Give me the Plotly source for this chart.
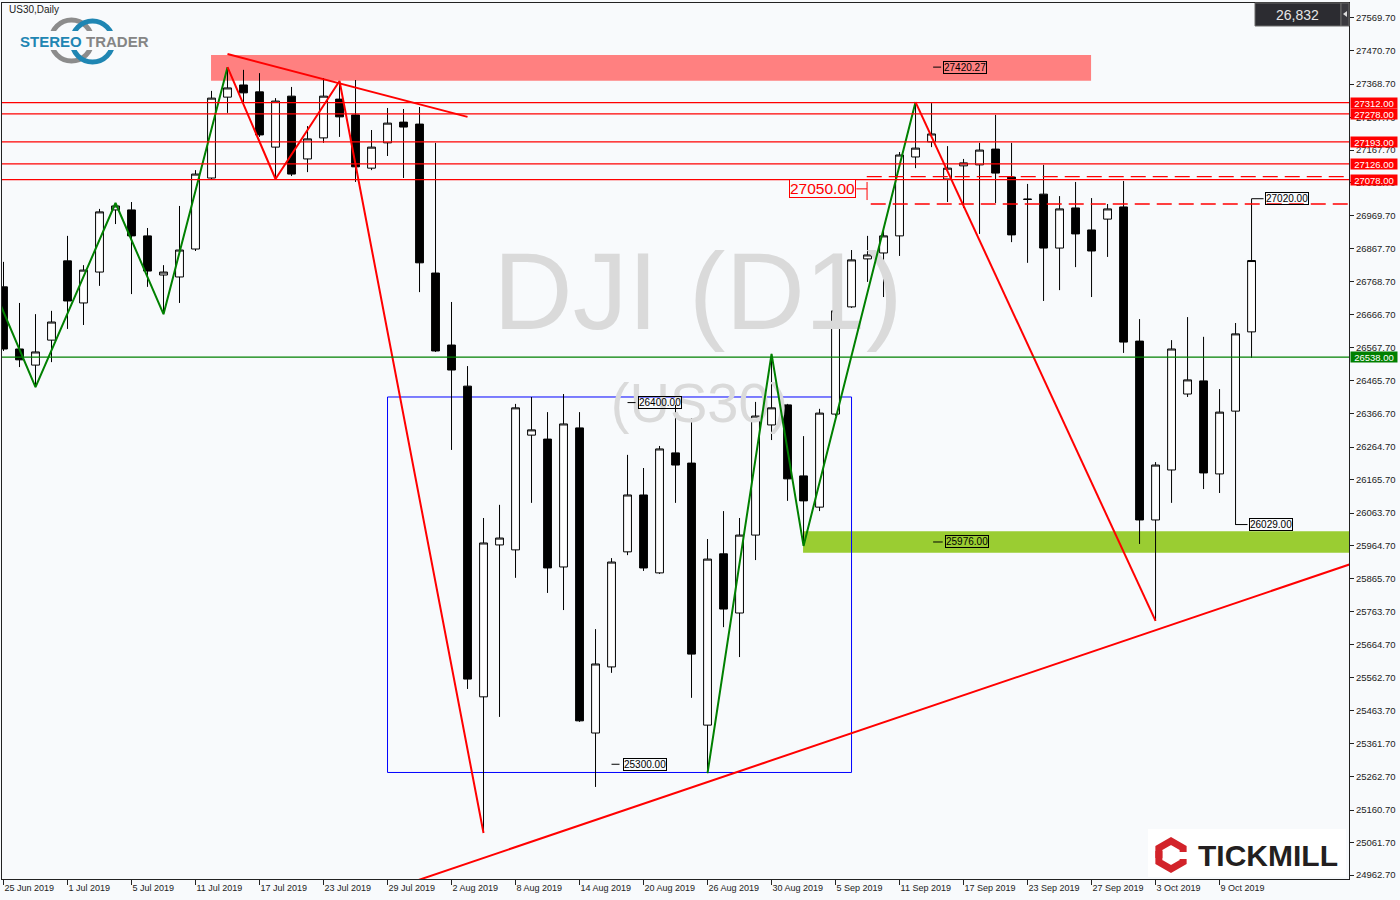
import math
import plotly.graph_objects as go
import pandas as pd

# ---------------- data ----------------
dates = pd.bdate_range("2019-06-25", "2019-10-11")  # 79 daily bars (US30 CFD)

opens = [26752, 26563, 26514, 26590, 26831, 26703, 26797, 26986, 26986, 26907,
         26788, 26782, 26867, 27083, 27329, 27366, 27345, 27177, 27332, 27141,
         27205, 27323, 27275, 27113, 27190, 27253, 27247, 26794, 26575, 26450,
         25505, 25967, 25952, 26301, 26289, 25900, 26323, 25395, 25596, 25946,
         26119, 25882, 26247, 26216, 25419, 25940, 25760, 25997, 26332, 26393,
         26177, 26082, 26365, 26691, 26837, 26855, 26907, 27147, 27193, 27080,
         27120, 27123, 27171, 27086, 27019, 27034, 26870, 26992, 26925, 26958,
         26995, 26587, 26043, 26195, 26426, 26466, 26183, 26374, 26615]
highs = [26828, 26703, 26669, 26679, 26907, 26818, 26989, 27007, 27010, 26931,
         26818, 26998, 27107, 27348, 27420, 27412, 27402, 27326, 27360, 27241,
         27387, 27378, 27381, 27229, 27296, 27293, 27299, 27190, 26706, 26511,
         26049, 26089, 26396, 26417, 26371, 26426, 26371, 25711, 25927, 26241,
         26201, 26268, 26393, 26353, 25985, 26070, 26049, 26402, 26548, 26396,
         26298, 26381, 26697, 26864, 26907, 26931, 27162, 27314, 27311, 27180,
         27141, 27190, 27275, 27190, 27065, 27123, 27028, 27071, 27022, 27004,
         27074, 26654, 26219, 26590, 26660, 26600, 26441, 26642, 27020]
lows = [26557, 26508, 26447, 26523, 26624, 26636, 26755, 26943, 26730, 26752,
        26669, 26703, 26861, 27080, 27281, 27311, 27208, 27080, 27089, 27101,
        27190, 27208, 27071, 27107, 27150, 27083, 26736, 26554, 26256, 25529,
        25091, 25444, 25867, 26095, 25821, 25769, 25429, 25231, 25578, 25936,
        25888, 25879, 26095, 25502, 25273, 25717, 25626, 25921, 26286, 26101,
        25964, 26070, 26359, 26688, 26767, 26721, 26846, 27113, 27177, 27010,
        26992, 26913, 27007, 26888, 26825, 26709, 26742, 26812, 26721, 26843,
        26551, 25970, 25736, 26095, 26417, 26137, 26125, 26028, 26536]
closes = [26563, 26530, 26554, 26645, 26709, 26803, 26980, 26998, 26907, 26800,
          26797, 26864, 27095, 27326, 27357, 27342, 27214, 27317, 27095, 27202,
          27332, 27269, 27117, 27177, 27250, 27238, 26825, 26557, 26499, 25559,
          25973, 25988, 26384, 26317, 25897, 26335, 25432, 25605, 25915, 26119,
          25897, 26259, 26210, 25635, 25924, 25772, 25997, 26359, 26384, 26168,
          26101, 26368, 26679, 26834, 26849, 26907, 27153, 27174, 27217, 27113,
          27129, 27168, 27098, 26910, 27018, 26870, 26989, 26913, 26861, 26989,
          26584, 26043, 26210, 26563, 26469, 26186, 26371, 26609, 26832]

y_ticks = [27569.70, 27470.70, 27368.70, 27267.70, 27167.70, 27068.70, 26969.70,
           26867.70, 26768.70, 26666.70, 26567.70, 26465.70, 26366.70, 26264.70,
           26165.70, 26063.70, 25964.70, 25865.70, 25763.70, 25664.70, 25562.70,
           25463.70, 25361.70, 25262.70, 25160.70, 25061.70, 24962.70]
x_tick_every = 4

red_levels = [27312, 27278, 27193, 27126, 27078]
green_level = 26538
resist_zone = [13, 68, 27379, 27457]          # bar start, bar end, low, high
resist_label = 27420.27
support_zone = [50, 90, 25943, 26009]
support_label = 25976.00
range_box = [24, 53, 25275, 26417]
range_labels = [(41.06, 26400.00, 39.0), (40.1, 25300.00, 38.0)]
gap_lines = [(53.95, 27087), (54.2, 27004)]
gap_label = 27050.00
down_trend = [(14.0, 27460), (29.0, 27269)]
up_trend = [(24.0, 24916), (84.5, 25914)]
zz_green_prev = (-1, 26790)
zz_green_1 = [(2, "L"), (7, "H"), (10, "L"), (14, "H")]
zz_red_1 = [(14, "H"), (17, "L"), (21, "H"), (30, "L")]
zz_green_2 = [(44, "L"), (48, "H"), (50, "L"), (57, "H")]
zz_red_2 = [(57, "H"), (72, "L")]
right_labels = [(78, 27020.00, 80.2), (77, 26029.00, 79.2)]

# ---------------- figure ----------------
xs = list(range(len(dates)))
BG = "#f8fafc"
FONT = "Liberation Sans"


def zz(points):
    xv, yv = [], []
    for i, t in points:
        xv.append(i)
        yv.append(highs[i] if t == "H" else lows[i])
    return xv, yv


fig = go.Figure()

# watermark (behind candles)
fig.add_trace(go.Scatter(x=[43.4], y=[26706], mode="text", text=["DJI (D1)"],
                         textfont=dict(size=110, color="#dadada", family=FONT),
                         hoverinfo="skip", showlegend=False))
fig.add_trace(go.Scatter(x=[43.5], y=[26384], mode="text", text=["(US30)"],
                         textfont=dict(size=56, color="#dadada", family=FONT),
                         hoverinfo="skip", showlegend=False))

fig.add_trace(go.Candlestick(
    x=xs, open=opens, high=highs, low=lows, close=closes,
    increasing=dict(line=dict(color="black", width=1), fillcolor="white"),
    decreasing=dict(line=dict(color="black", width=1), fillcolor="black"),
    whiskerwidth=0, showlegend=False, hoverinfo="skip"))

# zigzags
gx, gy = zz(zz_green_1)
fig.add_trace(go.Scatter(x=[zz_green_prev[0]] + gx, y=[zz_green_prev[1]] + gy, mode="lines",
                         line=dict(color="#008000", width=2), showlegend=False, hoverinfo="skip"))
for pts, col in [(zz_red_1, "#ff0000"), (zz_green_2, "#008000"), (zz_red_2, "#ff0000")]:
    a, b = zz(pts)
    fig.add_trace(go.Scatter(x=a, y=b, mode="lines", line=dict(color=col, width=2),
                             showlegend=False, hoverinfo="skip"))
# trendlines
for tl in (down_trend, up_trend):
    fig.add_trace(go.Scatter(x=[p[0] for p in tl], y=[p[1] for p in tl], mode="lines",
                             line=dict(color="#ff0000", width=2), showlegend=False, hoverinfo="skip"))

shapes = []
annotations = []


def pxx(xp):
    return (xp - 2) / 1347


def pyy(yp):
    return (879 - yp) / 876


# zones
shapes.append(dict(type="rect", xref="x", yref="y", x0=resist_zone[0] - 0.03, x1=resist_zone[1] - 0.03,
                   y0=resist_zone[2], y1=resist_zone[3], fillcolor="#ff8080", line=dict(width=0), layer="below"))
shapes.append(dict(type="rect", xref="x", yref="y", x0=support_zone[0] - 0.03, x1=support_zone[1],
                   y0=support_zone[2], y1=support_zone[3], fillcolor="#9acd32", line=dict(width=0), layer="below"))
shapes.append(dict(type="rect", xref="x", yref="y", x0=range_box[0], x1=range_box[1],
                   y0=range_box[2], y1=range_box[3], line=dict(color="#0000ff", width=1), layer="below"))

# horizontal levels
for lv in red_levels:
    shapes.append(dict(type="line", xref="paper", yref="y", x0=0, x1=1, y0=lv, y1=lv,
                       line=dict(color="#ff0000", width=1.3)))
shapes.append(dict(type="line", xref="paper", yref="y", x0=0, x1=1, y0=green_level, y1=green_level,
                   line=dict(color="#008000", width=1.3)))
for x0, lv in gap_lines:
    shapes.append(dict(type="line", xref="x", yref="y", x0=x0, x1=84.2, y0=lv, y1=lv,
                       line=dict(color="#ff0000", width=1.3, dash="15px,7px")))


# price label boxes
def price_label(xc, val, tick_from=None, tick_to=None):
    annotations.append(dict(x=xc, y=val, xref="x", yref="y", text=f"{val:.2f}", showarrow=False,
                            xanchor="center", yanchor="middle",
                            font=dict(size=10, color="#000", family=FONT), bordercolor="#000",
                            borderwidth=1, borderpad=0, bgcolor="rgba(0,0,0,0)"))
    if tick_from is not None:
        shapes.append(dict(type="line", xref="x", yref="y", x0=tick_from, x1=tick_to, y0=val, y1=val,
                           line=dict(color="#000", width=1)))


price_label(60.1, resist_label, 58.1, 58.6)
price_label(60.2, support_label, 58.1, 58.7)
for xc, val, tf in range_labels:
    price_label(xc, val, tf, tf + 0.5)
for bar, val, xc in right_labels:
    price_label(xc, val, bar, xc - 1.45)

# 27050 gap label with bracket
annotations.append(dict(x=51.2, y=gap_label, xref="x", yref="y", text=f"{gap_label:.2f}", showarrow=False,
                        xanchor="center", yanchor="middle",
                        font=dict(size=15.5, color="#ff0000", family=FONT), bordercolor="#ff0000",
                        borderwidth=1, borderpad=0, bgcolor=BG))
shapes.append(dict(type="line", xref="x", yref="y", x0=53.3, x1=53.97, y0=gap_label, y1=gap_label,
                   line=dict(color="#ff0000", width=1)))
shapes.append(dict(type="line", xref="x", yref="y", x0=53.97, x1=53.97, y0=27016, y1=27071,
                   line=dict(color="#ff0000", width=1)))

# right axis tags
for lv in red_levels:
    annotations.append(dict(x=1, xref="paper", xanchor="left", yanchor="middle", xshift=1, y=lv, yref="y",
                            text=f"{lv:.2f}", showarrow=False, bgcolor="#ff0000",
                            font=dict(size=9.5, color="white", family=FONT), width=46, height=10, borderpad=0))
annotations.append(dict(x=1, xref="paper", xanchor="left", yanchor="middle", xshift=1, y=green_level, yref="y",
                        text=f"{green_level:.2f}", showarrow=False, bgcolor="#008000",
                        font=dict(size=9.5, color="white", family=FONT), width=46, height=10, borderpad=0))

# top-right last price box
shapes.append(dict(type="rect", xref="paper", yref="paper", x0=pxx(1255), x1=pxx(1341), y0=pyy(26), y1=pyy(3),
                   fillcolor="#2c2c31", line=dict(color="#6a6a6a", width=1)))
shapes.append(dict(type="rect", xref="paper", yref="paper", x0=pxx(1341), x1=pxx(1349), y0=pyy(26), y1=pyy(3),
                   fillcolor="#3a3a3f", line=dict(color="#6a6a6a", width=1)))
shapes.append(dict(type="path", xref="paper", yref="paper",
                   path=f"M {pxx(1343)} {pyy(14)} L {pxx(1347)} {pyy(11)} L {pxx(1347)} {pyy(17)} Z",
                   fillcolor="#dddddd", line=dict(width=0)))
annotations.append(dict(x=pxx(1297), y=pyy(14.5), xref="paper", yref="paper", text=f"{closes[-1]:,.0f}",
                        xanchor="center", yanchor="middle",
                        showarrow=False, font=dict(size=14, color="#e6e6e6", family=FONT)))

# symbol caption
annotations.append(dict(x=pxx(7), y=pyy(10), xref="paper", yref="paper", xanchor="left", yanchor="middle",
                        text="US30,Daily", showarrow=False, font=dict(size=10, color="#222", family=FONT)))

# StereoTrader logo
shapes.append(dict(type="circle", xref="paper", yref="paper", x0=pxx(51), x1=pxx(92), y0=pyy(61), y1=pyy(20),
                   line=dict(color="#8c8c8c", width=5)))
shapes.append(dict(type="circle", xref="paper", yref="paper", x0=pxx(72), x1=pxx(113), y0=pyy(62), y1=pyy(21),
                   line=dict(color="#1f86b3", width=5)))
shapes.append(dict(type="rect", xref="paper", yref="paper", x0=pxx(26), x1=pxx(140), y0=pyy(50), y1=pyy(31),
                   fillcolor=BG, line=dict(width=0)))
annotations.append(dict(x=pxx(84), y=pyy(41), xref="paper", yref="paper", xanchor="right", yanchor="middle",
                        text="<b>STEREO</b>", showarrow=False,
                        font=dict(size=15, color="#1f86b3", family=FONT)))
annotations.append(dict(x=pxx(84), y=pyy(41), xref="paper", yref="paper", xanchor="left", yanchor="middle",
                        text="<b>TRADER</b>", showarrow=False,
                        font=dict(size=15, color="#858585", family=FONT)))

# Tickmill logo
shapes.append(dict(type="rect", xref="paper", yref="paper", x0=pxx(1148), x1=pxx(1346), y0=pyy(877), y1=pyy(829),
                   fillcolor="white", line=dict(width=0)))
cx, cy, r = 1171, 855, 14
V = [(cx + r * math.cos(math.radians(a)), cy - r * math.sin(math.radians(a))) for a in (90, 30, -30, -90, -150, 150)]


def P(pt):
    return f"{pxx(pt[0])} {pyy(pt[1])}"


mid01 = ((V[1][0] + V[2][0]) / 2, (V[1][1] + V[2][1]) / 2 - 3)
mid45 = ((V[4][0] + V[5][0]) / 2, (V[4][1] + V[5][1]) / 2 + 3)
shapes.append(dict(type="path", xref="paper", yref="paper",
                   path=f"M {P(mid45)} L {P(V[5])} L {P(V[0])} L {P(V[1])} L {P(mid01)}",
                   line=dict(color="#d2232a", width=7)))
mid01b = ((V[1][0] + V[2][0]) / 2, (V[1][1] + V[2][1]) / 2 + 4)
mid45b = ((V[4][0] + V[5][0]) / 2, (V[4][1] + V[5][1]) / 2 - 4)
shapes.append(dict(type="path", xref="paper", yref="paper",
                   path=f"M {P(mid01b)} L {P(V[2])} L {P(V[3])} L {P(V[4])} L {P(mid45b)}",
                   line=dict(color="#d2232a", width=7)))
annotations.append(dict(x=pxx(1196), y=pyy(855), xref="paper", yref="paper", xanchor="left", yanchor="middle",
                        text="<b>TICKMILL</b>", showarrow=False,
                        font=dict(size=30, color="#231f20", family=FONT)))

tick_idx = xs[::x_tick_every]
tick_txt = [f"{dates[i].day} {dates[i]:%b %Y}" for i in tick_idx]

fig.update_layout(
    width=1400, height=900,
    margin=dict(l=2, r=51, t=3, b=21, autoexpand=False),
    paper_bgcolor=BG, plot_bgcolor=BG,
    font=dict(family=FONT, color="#222"),
    showlegend=False, hovermode=False,
    shapes=shapes, annotations=annotations,
    xaxis=dict(range=[-0.094, 84.09], showgrid=False, zeroline=False, showline=True, mirror=True,
               linecolor="#222", linewidth=1, ticks="outside", ticklen=5, tickcolor="#222",
               tickvals=tick_idx, ticktext=tick_txt, ticklabelposition="outside right",
               tickfont=dict(size=9, color="#222"), rangeslider=dict(visible=False), fixedrange=True),
    yaxis=dict(range=[24951.0, 27615.3], side="right", showgrid=False, zeroline=False, showline=True,
               mirror=True, linecolor="#222", linewidth=1, ticks="outside", ticklen=4, tickcolor="#222",
               tickvals=y_ticks, tickformat=".2f", tickfont=dict(size=9.5, color="#222"), fixedrange=True),
)

fig.write_html("out.html", config={"displayModeBar": False},
               post_script="document.body.style.margin='0';document.body.style.background='" + BG + "';")
